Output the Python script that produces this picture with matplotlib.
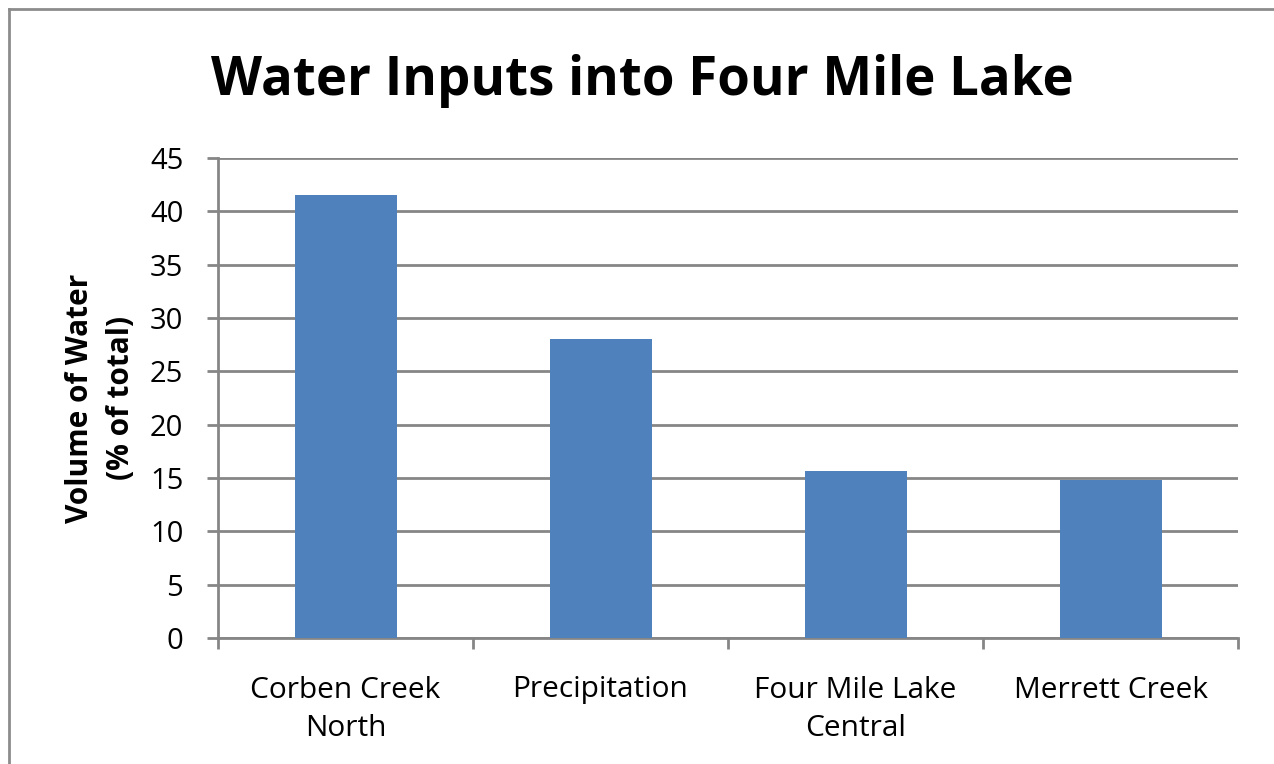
import matplotlib
matplotlib.use("Agg")
import matplotlib.pyplot as plt
from matplotlib.lines import Line2D

categories = ["Corben Creek\nNorth", "Precipitation", "Four Mile Lake\nCentral", "Merrett Creek"]
volumes = [41.5, 28.0, 15.7, 14.8]
y_ticks = [0, 5, 10, 15, 20, 25, 30, 35, 40, 45]

plt.rcParams["font.family"] = ["Open Sans", "DejaVu Sans"]

W, H = 1274, 764
fig = plt.figure(figsize=(W / 100, H / 100), dpi=100)
fig.patch.set_facecolor("white")

# outer chart frame (left and top edges visible)
fig.add_artist(Line2D([9 / W, 9 / W], [0, 1 - 9 / H], transform=fig.transFigure,
                      color="#8c8c8c", lw=2))
fig.add_artist(Line2D([9 / W, 1], [1 - 9 / H, 1 - 9 / H], transform=fig.transFigure,
                      color="#8c8c8c", lw=2))

ax = fig.add_axes([218 / W, 1 - 638 / H, (1238 - 218) / W, (638 - 158) / H])
grid_col = "#868686"

x = list(range(len(categories)))
ax.bar(x, volumes, width=0.4, color="#4F81BD", zorder=3)

ax.set_xlim(-0.5, len(categories) - 0.5)
ax.set_ylim(0, 45)
ax.set_yticks(y_ticks)
ax.set_yticklabels([str(v) for v in y_ticks], fontsize=21)
ax.yaxis.grid(True, color=grid_col, lw=2, zorder=0)
ax.set_axisbelow(True)

# category labels centred on bars, tick marks on boundaries
ax.set_xticks(x)
ax.set_xticklabels(categories, fontsize=21.5, linespacing=1.42)
ax.tick_params(axis="x", length=0, pad=27)
ax.set_xticks([i - 0.5 for i in range(len(categories) + 1)], minor=True)
ax.tick_params(axis="x", which="minor", length=8, width=2, color=grid_col, direction="out")
ax.tick_params(axis="y", length=8, width=2, color=grid_col, direction="out", pad=17)

for side in ["top", "right"]:
    ax.spines[side].set_visible(False)
ax.spines["left"].set_color(grid_col)
ax.spines["left"].set_linewidth(2)
ax.spines["bottom"].set_color(grid_col)
ax.spines["bottom"].set_linewidth(2)

ax.set_ylabel("Volume of Water\n(% of total)", fontsize=21.5, fontweight="bold",
              linespacing=1.5, labelpad=10)

fig.text(642 / W, 1 - 81 / H, "Water Inputs into Four Mile Lake", fontsize=38,
         fontweight="bold", ha="center", va="center")

fig.savefig("out.png", dpi=100)
